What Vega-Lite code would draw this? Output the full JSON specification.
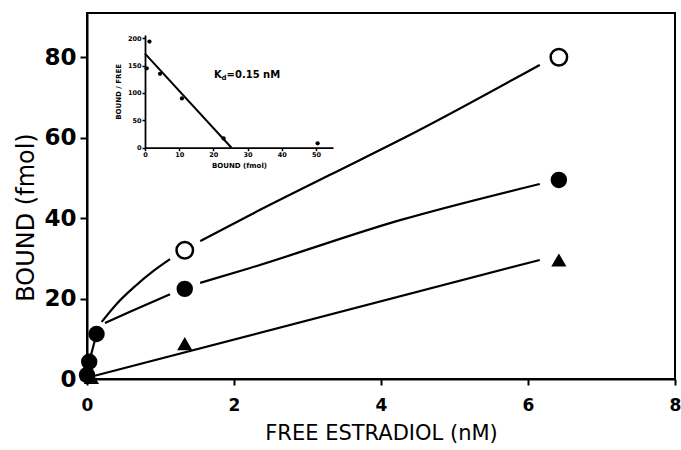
{
  "$schema": "https://vega.github.io/schema/vega-lite/v6.json",
  "width": 588,
  "height": 366,
  "autosize": {"type": "none"},
  "padding": {"left": 87, "top": 13, "right": 6, "bottom": 71},
  "background": "white",
  "config": {
    "view": {"stroke": "black", "strokeWidth": 2},
    "font": "DejaVu Sans",
    "axis": {"grid": false, "domainColor": "black", "tickColor": "black", "labelColor": "black", "titleColor": "black"}
  },
  "datasets": {
    "points": [
      {"series": "open", "conc": 1.33, "bound": 32.0},
      {"series": "open", "conc": 6.42, "bound": 80.0},
      {"series": "filled", "conc": 0.0, "bound": 1.0},
      {"series": "filled", "conc": 0.03, "bound": 4.3},
      {"series": "filled", "conc": 0.13, "bound": 11.2},
      {"series": "filled", "conc": 1.33, "bound": 22.4},
      {"series": "filled", "conc": 6.42, "bound": 49.5},
      {"series": "triangle", "conc": 0.06, "bound": 0.4},
      {"series": "triangle", "conc": 1.33, "bound": 8.8},
      {"series": "triangle", "conc": 6.42, "bound": 29.6}
    ],
    "fits": [
      {"segment": "open_a", "conc": 0.2, "bound": 14.2},
      {"segment": "open_a", "conc": 0.4, "bound": 18.6},
      {"segment": "open_a", "conc": 0.65, "bound": 23.0},
      {"segment": "open_a", "conc": 0.9, "bound": 26.8},
      {"segment": "open_a", "conc": 1.13, "bound": 29.8},
      {"segment": "open_b", "conc": 1.54, "bound": 34.3},
      {"segment": "open_b", "conc": 2.22, "bound": 40.8},
      {"segment": "open_b", "conc": 3.3, "bound": 50.7},
      {"segment": "open_b", "conc": 4.49, "bound": 61.6},
      {"segment": "open_b", "conc": 6.16, "bound": 78.1},
      {"segment": "filled_a", "conc": 0.245, "bound": 13.9},
      {"segment": "filled_a", "conc": 0.585, "bound": 16.7},
      {"segment": "filled_a", "conc": 1.13, "bound": 21.1},
      {"segment": "filled_b", "conc": 1.54, "bound": 23.9},
      {"segment": "filled_b", "conc": 2.22, "bound": 27.6},
      {"segment": "filled_b", "conc": 4.26, "bound": 39.5},
      {"segment": "filled_b", "conc": 6.16, "bound": 48.5},
      {"segment": "filled_c", "conc": 0.03, "bound": 4.3},
      {"segment": "filled_c", "conc": 0.13, "bound": 11.2},
      {"segment": "tri", "conc": 0.0, "bound": 0.3},
      {"segment": "tri", "conc": 6.16, "bound": 29.6}
    ],
    "scatchard": [
      {"b": 1.3, "ratio": 194},
      {"b": 0.5, "ratio": 145},
      {"b": 4.4, "ratio": 135},
      {"b": 10.8, "ratio": 90},
      {"b": 23.0, "ratio": 17},
      {"b": 50.5, "ratio": 8}
    ],
    "scatchardFit": [
      {"b": 0.0, "ratio": 172},
      {"b": 25.3, "ratio": 0}
    ]
  },
  "layer": [
    {
      "layer": [
        {
          "data": {"name": "fits"},
          "mark": {"type": "line", "interpolate": "monotone", "color": "black", "strokeWidth": 2.2},
          "encoding": {
            "x": {
              "field": "conc", "type": "quantitative",
              "scale": {"domain": [0, 8], "nice": false},
              "axis": {
                "title": "FREE ESTRADIOL (nM)", "values": [0, 2, 4, 6, 8], "format": "d",
                "labelFontWeight": "bold", "labelFontSize": 17, "labelPadding": 12, "labelFlush": false,
                "tickSize": 6, "tickWidth": 2, "domainWidth": 2,
                "titleFontSize": 21, "titleFontWeight": "normal", "titlePadding": 9
              }
            },
            "y": {
              "field": "bound", "type": "quantitative",
              "scale": {"domain": [0, 91], "nice": false},
              "axis": {
                "title": "BOUND (fmol)", "values": [0, 20, 40, 60, 80], "format": "d",
                "labelFontWeight": "bold", "labelFontSize": 23, "labelPadding": 4, "labelFlush": false,
                "tickSize": 7, "tickWidth": 2, "domainWidth": 2,
                "titleFontSize": 24, "titleFontWeight": "normal", "titleX": -49, "titleY": 204
              }
            },
            "detail": {"field": "segment"}
          }
        },
        {
          "data": {"name": "points"},
          "transform": [{"filter": "datum.series == 'open'"}],
          "mark": {"type": "point", "shape": "circle", "fill": "white", "stroke": "black", "strokeWidth": 2.5, "size": 270, "opacity": 1},
          "encoding": {
            "x": {"field": "conc", "type": "quantitative"},
            "y": {"field": "bound", "type": "quantitative"}
          }
        },
        {
          "data": {"name": "points"},
          "transform": [{"filter": "datum.series == 'filled'"}],
          "mark": {"type": "circle", "color": "black", "size": 270, "opacity": 1},
          "encoding": {
            "x": {"field": "conc", "type": "quantitative"},
            "y": {"field": "bound", "type": "quantitative"}
          }
        },
        {
          "data": {"name": "points"},
          "transform": [{"filter": "datum.series == 'triangle'"}],
          "mark": {"type": "point", "shape": "triangle-up", "filled": true, "color": "black", "size": 230, "opacity": 1},
          "encoding": {
            "x": {"field": "conc", "type": "quantitative"},
            "y": {"field": "bound", "type": "quantitative"}
          }
        }
      ]
    },
    {
      "layer": [
        {
          "data": {"name": "scatchardFit"},
          "mark": {"type": "line", "color": "black", "strokeWidth": 2},
          "encoding": {
            "x": {
              "field": "b", "type": "quantitative",
              "scale": {"domain": [0, 55], "range": [58, 246], "nice": false},
              "axis": {
                "orient": "bottom", "offset": -231.3, "title": "BOUND (fmol)", "values": [0, 10, 20, 30, 40, 50], "format": "d",
                "labelFontWeight": "bold", "labelFontSize": 6.5, "labelPadding": 1, "labelFlush": false,
                "tickSize": 3, "tickWidth": 1.5, "domainWidth": 1.8,
                "titleFontSize": 7, "titleFontWeight": "bold", "titlePadding": 3
              }
            },
            "y": {
              "field": "ratio", "type": "quantitative",
              "scale": {"domain": [0, 206], "range": [134.7, 22], "nice": false},
              "axis": {
                "orient": "left", "offset": -58, "title": "BOUND / FREE", "values": [0, 50, 100, 150, 200], "format": "d",
                "labelFontWeight": "bold", "labelFontSize": 6.5, "labelPadding": 1, "labelFlush": false,
                "tickSize": 3, "tickWidth": 1.5, "domainWidth": 1.8,
                "titleFontSize": 7, "titleFontWeight": "bold", "titlePadding": 6
              }
            }
          }
        },
        {
          "data": {"name": "scatchard"},
          "mark": {"type": "circle", "color": "black", "size": 18, "opacity": 1},
          "encoding": {
            "x": {"field": "b", "type": "quantitative"},
            "y": {"field": "ratio", "type": "quantitative"}
          }
        },
        {
          "data": {"values": [{"label": "K"}]},
          "mark": {"type": "text", "align": "left", "baseline": "middle", "fontSize": 10, "fontWeight": "bold", "color": "black"},
          "encoding": {
            "x": {"datum": 20.2, "type": "quantitative"},
            "y": {"datum": 133, "type": "quantitative"},
            "text": {"field": "label"}
          }
        },
        {
          "data": {"values": [{"label": "d"}]},
          "mark": {"type": "text", "align": "left", "baseline": "middle", "fontSize": 7, "fontWeight": "bold", "color": "black", "dx": 7.5, "dy": 3},
          "encoding": {
            "x": {"datum": 20.2, "type": "quantitative"},
            "y": {"datum": 133, "type": "quantitative"},
            "text": {"field": "label"}
          }
        },
        {
          "data": {"values": [{"label": "=0.15 nM"}]},
          "mark": {"type": "text", "align": "left", "baseline": "middle", "fontSize": 10, "fontWeight": "bold", "color": "black", "dx": 12.5},
          "encoding": {
            "x": {"datum": 20.2, "type": "quantitative"},
            "y": {"datum": 133, "type": "quantitative"},
            "text": {"field": "label"}
          }
        }
      ]
    }
  ],
  "resolve": {
    "scale": {"x": "independent", "y": "independent"},
    "axis": {"x": "independent", "y": "independent"}
  }
}
